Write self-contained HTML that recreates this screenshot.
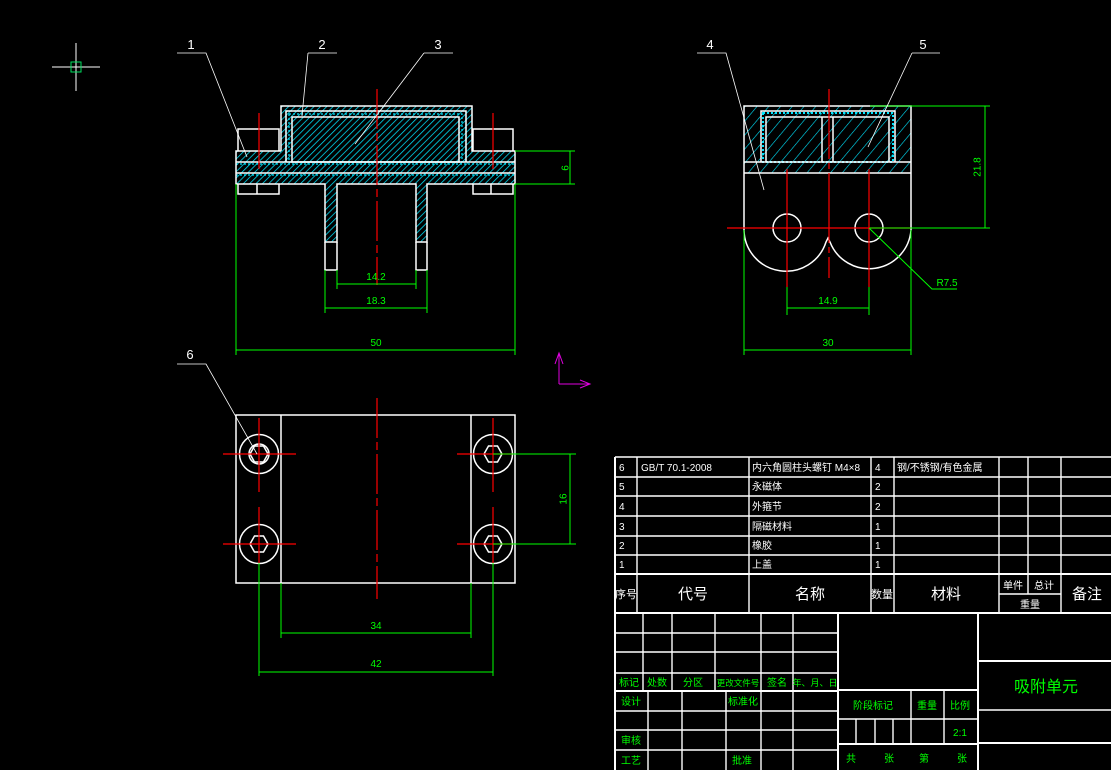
<!DOCTYPE html>
<html><head><meta charset="utf-8"><style>
html,body{margin:0;padding:0;background:#000;}
svg{display:block;}
text{font-family:"Liberation Sans","Noto Sans CJK SC",sans-serif;}
</style></head><body>
<svg width="1111" height="770" viewBox="0 0 1111 770" xmlns="http://www.w3.org/2000/svg">
<defs>
<pattern id="h1" width="4.5" height="4.5" patternUnits="userSpaceOnUse" patternTransform="rotate(45)">
<line x1="0" y1="0" x2="0" y2="4.5" stroke="#00e5ff" stroke-width="1.5"/></pattern>
<pattern id="h2" width="9" height="9" patternUnits="userSpaceOnUse" patternTransform="rotate(40)">
<line x1="0" y1="0" x2="0" y2="9" stroke="#00e5ff" stroke-width="1.2"/></pattern>
</defs>
<rect width="1111" height="770" fill="#000"/>

<g stroke="#fff" stroke-width="1"><line x1="52" y1="67" x2="100" y2="67"/><line x1="76" y1="43" x2="76" y2="91"/></g>
<rect x="71" y="62" width="10" height="10" fill="none" stroke="#00e060" stroke-width="1"/>

<!-- FRONT VIEW -->
<path d="M281,106 H472 V151 H515 V184 H427 V242 H416 V184 H337 V242 H325 V184 H236 V151 H281 Z" fill="url(#h1)"/>
<g fill="none" stroke="#00e5ff" stroke-width="1.2" stroke-dasharray="2,2">
<rect x="286" y="111" width="180" height="51"/>
<rect x="289" y="114" width="173" height="48"/>
<line x1="236" y1="164" x2="515" y2="164"/><line x1="236" y1="175" x2="515" y2="175"/>
</g>
<g fill="none" stroke="#fff" stroke-width="1.5">
<path d="M281,151 V106 H472 V151 H515 V184 H427 V242 H416 V184 H337 V242 H325 V184 H236 V151 H281"/>
<path d="M286,162 V111 H466 V162"/>
<rect x="292" y="117" width="167" height="45"/>
<line x1="236" y1="162" x2="515" y2="162"/>
<line x1="236" y1="173" x2="515" y2="173"/>
<path d="M238,151 V129 H279 V151"/><path d="M473,151 V129 H513 V151"/>
<path d="M238,184 V194 H279 V184 M257,184 V194"/>
<path d="M473,184 V194 H513 V184 M491,184 V194"/>
<path d="M325,242 V270 H337 V242"/><path d="M416,242 V270 H427 V242"/>
</g>
<g stroke="#f00" stroke-width="1.2">
<line x1="377" y1="89" x2="377" y2="285" stroke-dasharray="40,4,8,4"/>
<line x1="259" y1="113" x2="259" y2="169"/><line x1="493" y1="113" x2="493" y2="169"/>
</g>
<g stroke="#0f0" stroke-width="1" fill="none">
<line x1="236" y1="184" x2="236" y2="355"/><line x1="515" y1="184" x2="515" y2="355"/>
<line x1="236" y1="350" x2="515" y2="350"/>
<line x1="325" y1="270" x2="325" y2="313"/><line x1="427" y1="270" x2="427" y2="313"/>
<line x1="325" y1="308" x2="427" y2="308"/>
<line x1="337" y1="270" x2="337" y2="289"/><line x1="416" y1="270" x2="416" y2="289"/>
<line x1="337" y1="284" x2="416" y2="284"/>
<line x1="515" y1="151" x2="575" y2="151"/><line x1="515" y1="184" x2="575" y2="184"/>
<line x1="570" y1="151" x2="570" y2="184"/>
</g>
<g fill="#0f0" font-size="10" text-anchor="middle">
<text x="376" y="346">50</text><text x="376" y="304">18.3</text><text x="376" y="280">14.2</text>
<text x="566" y="168" transform="rotate(-90 566 168)" dominant-baseline="middle">6</text>
</g>
<g stroke="#fff" stroke-width="0.8" fill="none">
<path d="M177,53 H206 L247,157"/><path d="M308,53 H337 M308,53 L302,116"/><path d="M424,53 H453 M424,53 L355,144"/>
</g>
<g fill="#fff" font-size="13" text-anchor="middle">
<text x="191" y="49">1</text><text x="322" y="49">2</text><text x="438" y="49">3</text>
</g>

<!-- SIDE VIEW -->
<rect x="744" y="106" width="167" height="67" fill="url(#h2)"/>
<g fill="none" stroke="#00e5ff" stroke-width="2" stroke-dasharray="2,2">
<rect x="763" y="113" width="130" height="49"/>
</g>
<g fill="none" stroke="#fff" stroke-width="1.5">
<path d="M744,230 V106 H911 V230"/>
<line x1="744" y1="162" x2="911" y2="162"/><line x1="744" y1="173" x2="911" y2="173"/>
<path d="M761,162 V111 H895 V162"/>
<path d="M766,162 V117 H889 V162"/>
<line x1="822" y1="117" x2="822" y2="162"/><line x1="833" y1="117" x2="833" y2="162"/>
<path d="M744,230 A42,42 0 0 0 826,242 L828,238 L830,242 A42,42 0 0 0 911,230"/>
<circle cx="787" cy="228" r="14"/><circle cx="869" cy="228" r="14"/>
</g>
<g stroke="#f00" stroke-width="1.2">
<line x1="829" y1="89" x2="829" y2="278" stroke-dasharray="70,4,6,4"/>
<line x1="727" y1="228" x2="911" y2="228"/>
<line x1="787" y1="169" x2="787" y2="287"/><line x1="869" y1="169" x2="869" y2="287"/>
</g>
<g stroke="#0f0" stroke-width="1" fill="none">
<line x1="870" y1="106" x2="990" y2="106"/><line x1="870" y1="228" x2="990" y2="228"/>
<line x1="985" y1="106" x2="985" y2="228"/>
<line x1="744" y1="230" x2="744" y2="355"/><line x1="911" y1="230" x2="911" y2="355"/>
<line x1="744" y1="350" x2="911" y2="350"/>
<line x1="787" y1="287" x2="787" y2="315"/><line x1="869" y1="287" x2="869" y2="315"/>
<line x1="787" y1="308" x2="869" y2="308"/>
<path d="M869,228 L932,289 H957"/>
</g>
<g fill="#0f0" font-size="10" text-anchor="middle">
<text x="828" y="346">30</text><text x="828" y="304">14.9</text><text x="947" y="286">R7.5</text>
<text x="978" y="167" transform="rotate(-90 978 167)" dominant-baseline="middle">21.8</text>
</g>
<g stroke="#fff" stroke-width="0.8" fill="none">
<path d="M697,53 H726 L764,190"/><path d="M912,53 H940 M912,53 L868,147"/>
</g>
<g fill="#fff" font-size="13" text-anchor="middle">
<text x="710" y="49">4</text><text x="923" y="49">5</text>
</g>

<g stroke="#e000e0" stroke-width="1" fill="none">
<path d="M559,384 V353 M555,364 L559,353 L563,364"/>
<path d="M559,384 H590 M580,380 L590,384 L580,388"/>
</g>

<!-- TOP VIEW -->
<g fill="none" stroke="#fff" stroke-width="1.5">
<rect x="236" y="415" width="279" height="168"/>
<line x1="281" y1="415" x2="281" y2="583"/><line x1="471" y1="415" x2="471" y2="583"/>
<circle cx="259" cy="454" r="19.5"/><circle cx="259" cy="544" r="19.5"/>
<circle cx="493" cy="454" r="19.5"/><circle cx="493" cy="544" r="19.5"/>
<circle cx="259" cy="454" r="10"/>
<polygon points="250,454 254.5,446 263.5,446 268,454 263.5,462 254.5,462"/>
<polygon points="250,544 254.5,536 263.5,536 268,544 263.5,552 254.5,552"/>
<polygon points="484,454 488.5,446 497.5,446 502,454 497.5,462 488.5,462"/>
<polygon points="484,544 488.5,536 497.5,536 502,544 497.5,552 488.5,552"/>
</g>
<g stroke="#f00" stroke-width="1.2">
<line x1="377" y1="398" x2="377" y2="599" stroke-dasharray="40,4,8,4"/>
<line x1="223" y1="454" x2="296" y2="454"/><line x1="223" y1="544" x2="296" y2="544"/>
<line x1="457" y1="454" x2="513" y2="454"/><line x1="457" y1="544" x2="513" y2="544"/>
<line x1="259" y1="418" x2="259" y2="492"/><line x1="259" y1="507" x2="259" y2="563"/>
<line x1="493" y1="418" x2="493" y2="492"/><line x1="493" y1="507" x2="493" y2="563"/>
</g>
<g stroke="#0f0" stroke-width="1" fill="none">
<line x1="493" y1="454" x2="576" y2="454"/><line x1="493" y1="544" x2="576" y2="544"/>
<line x1="570" y1="454" x2="570" y2="544"/>
<line x1="281" y1="583" x2="281" y2="638"/><line x1="471" y1="583" x2="471" y2="638"/>
<line x1="281" y1="633" x2="471" y2="633"/>
<line x1="259" y1="563" x2="259" y2="676"/><line x1="493" y1="563" x2="493" y2="676"/>
<line x1="259" y1="672" x2="493" y2="672"/>
</g>
<g fill="#0f0" font-size="10" text-anchor="middle">
<text x="376" y="629">34</text><text x="376" y="667">42</text>
<text x="564" y="499" transform="rotate(-90 564 499)" dominant-baseline="middle">16</text>
</g>
<path d="M177,364 H206 L257,454" stroke="#fff" stroke-width="0.8" fill="none"/>
<text x="190" y="359" fill="#fff" font-size="13" text-anchor="middle">6</text>

<!-- TITLE BLOCK -->
<g stroke="#fff" stroke-width="1.4" fill="none">
<line x1="615" y1="457" x2="1111" y2="457"/>
<line x1="615" y1="477" x2="1111" y2="477"/>
<line x1="615" y1="496" x2="1111" y2="496"/>
<line x1="615" y1="516" x2="1111" y2="516"/>
<line x1="615" y1="536" x2="1111" y2="536"/>
<line x1="615" y1="555" x2="1111" y2="555"/>
<line x1="615" y1="574" x2="1111" y2="574" stroke-width="2"/>
<line x1="615" y1="613" x2="1111" y2="613" stroke-width="2"/>
<line x1="615" y1="457" x2="615" y2="770" stroke-width="2"/>
<line x1="637" y1="457" x2="637" y2="613"/>
<line x1="749" y1="457" x2="749" y2="613"/>
<line x1="871" y1="457" x2="871" y2="613"/>
<line x1="894" y1="457" x2="894" y2="613"/>
<line x1="999" y1="457" x2="999" y2="613"/>
<line x1="1028" y1="457" x2="1028" y2="594"/>
<line x1="1061" y1="457" x2="1061" y2="613"/>
<line x1="999" y1="594" x2="1061" y2="594"/>
<line x1="615" y1="633" x2="838" y2="633"/>
<line x1="615" y1="652" x2="838" y2="652"/>
<line x1="615" y1="673" x2="838" y2="673"/>
<line x1="615" y1="691" x2="838" y2="691" stroke-width="2"/>
<line x1="615" y1="711" x2="838" y2="711"/>
<line x1="615" y1="730" x2="838" y2="730"/>
<line x1="615" y1="750" x2="838" y2="750"/>
<line x1="643" y1="613" x2="643" y2="691"/>
<line x1="672" y1="613" x2="672" y2="691"/>
<line x1="715" y1="613" x2="715" y2="691"/>
<line x1="761" y1="613" x2="761" y2="770"/>
<line x1="793" y1="613" x2="793" y2="770"/>
<line x1="648" y1="691" x2="648" y2="770"/>
<line x1="682" y1="691" x2="682" y2="770"/>
<line x1="726" y1="691" x2="726" y2="770"/>
<line x1="838" y1="613" x2="838" y2="770" stroke-width="2"/>
<line x1="838" y1="690" x2="978" y2="690" stroke-width="2"/>
<line x1="838" y1="719" x2="978" y2="719"/>
<line x1="838" y1="744" x2="978" y2="744" stroke-width="2"/>
<line x1="856" y1="719" x2="856" y2="744"/>
<line x1="875" y1="719" x2="875" y2="744"/>
<line x1="893" y1="719" x2="893" y2="744"/>
<line x1="911" y1="690" x2="911" y2="744"/>
<line x1="944" y1="690" x2="944" y2="744"/>
<line x1="978" y1="613" x2="978" y2="770" stroke-width="2"/>
<line x1="978" y1="661" x2="1111" y2="661" stroke-width="2"/>
<line x1="978" y1="710" x2="1111" y2="710"/>
<line x1="978" y1="743" x2="1111" y2="743" stroke-width="2"/>
</g>
<g fill="#fff" font-size="10">
<text x="619" y="471">6</text><text x="619" y="490">5</text><text x="619" y="510">4</text>
<text x="619" y="530">3</text><text x="619" y="549">2</text><text x="619" y="568">1</text>
<text x="641" y="471">GB/T 70.1-2008</text>
<text x="752" y="471">内六角圆柱头螺钉 M4×8</text>
<text x="752" y="490">永磁体</text><text x="752" y="510">外箍节</text>
<text x="752" y="530">隔磁材料</text><text x="752" y="549">橡胶</text><text x="752" y="568">上盖</text>
<text x="875" y="471">4</text><text x="875" y="490">2</text><text x="875" y="510">2</text>
<text x="875" y="530">1</text><text x="875" y="549">1</text><text x="875" y="568">1</text>
<text x="897" y="471">钢/不锈钢/有色金属</text>
</g>
<g fill="#fff" font-size="15" text-anchor="middle">
<text x="626" y="598" font-size="11">序号</text>
<text x="693" y="599">代号</text><text x="810" y="599">名称</text>
<text x="882" y="598" font-size="11">数量</text><text x="946" y="599">材料</text>
<text x="1087" y="599">备注</text>
<text x="1013" y="589" font-size="10">单件</text><text x="1044" y="589" font-size="10">总计</text>
<text x="1030" y="608" font-size="10">重量</text>
</g>
<g fill="#0f0" font-size="10" text-anchor="middle">
<text x="629" y="686">标记</text><text x="657" y="686">处数</text><text x="693" y="686">分区</text>
<text x="738" y="686" font-size="8.5">更改文件号</text><text x="777" y="686">签名</text><text x="815" y="686" font-size="9">年、月、日</text>
<text x="631" y="705">设计</text><text x="743" y="705">标准化</text>
<text x="631" y="744">审核</text><text x="631" y="764">工艺</text><text x="742" y="764">批准</text>
<text x="873" y="709">阶段标记</text><text x="927" y="709">重量</text><text x="960" y="709">比例</text>
<text x="960" y="736">2:1</text>
<text x="851" y="762">共</text><text x="889" y="762">张</text><text x="924" y="762">第</text><text x="962" y="762">张</text>
<text x="1046" y="692" font-size="16">吸附单元</text>
</g>
</svg>
</body></html>
